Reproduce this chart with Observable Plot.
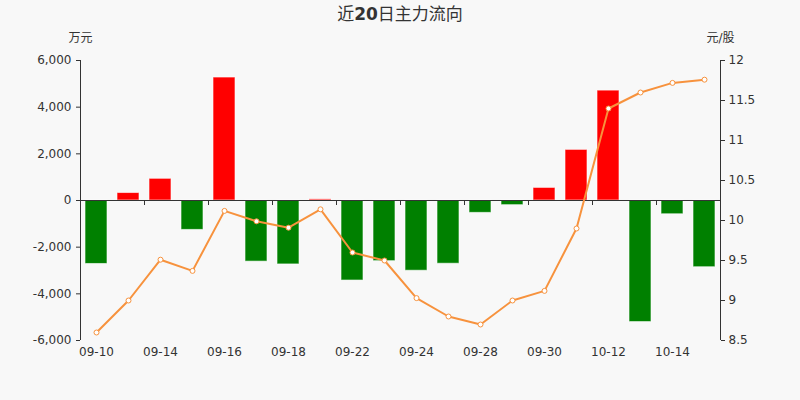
<!DOCTYPE html>
<html>
<head>
<meta charset="utf-8">
<script src="https://cdn.jsdelivr.net/npm/d3@7"></script>
<script src="https://cdn.jsdelivr.net/npm/@observablehq/plot@0.6"></script>
<style>
  html, body { margin: 0; padding: 0; background: #f8f8f8; }
  body { width: 800px; height: 400px; overflow: hidden; font-family: "DejaVu Sans", "Noto Sans CJK SC", sans-serif; color: #333; }
  #title { height: 28px; line-height: 28px; text-align: center; font-size: 17px; color: #333; }
  #title b { font-weight: bold; }
</style>
</head>
<body>
<div id="title">近<b>20</b>日主力流向</div>
<div id="chart"></div>
<script>
// ---- data ----
const dates = ["09-10","09-11","09-14","09-15","09-16","09-17","09-18","09-21","09-22","09-23",
               "09-24","09-25","09-28","09-29","09-30","10-09","10-12","10-13","10-14","10-15"];
const flows = [-2720, 320, 930, -1260, 5270, -2620, -2740, 50, -3430, -2600,
               -3010, -2710, -530, -200, 540, 2170, 4710, -5210, -590, -2860];
const prices = [8.60, 9.00, 9.51, 9.37, 10.12, 9.99, 9.91, 10.14, 9.60, 9.50,
                9.03, 8.80, 8.70, 9.00, 9.12, 9.90, 11.40, 11.60, 11.72, 11.76];
const leftTicks = [-6000, -4000, -2000, 0, 2000, 4000, 6000];
const rightTicks = [8.5, 9, 9.5, 10, 10.5, 11, 11.5, 12];
const xLabels = ["09-10","09-14","09-16","09-18","09-22","09-24","09-28","09-30","10-12","10-14"];
const leftUnit = "万元";
const rightUnit = "元/股";

// ---- helpers ----
const leftDomain = [-6000, 6000];
const rightDomain = [8.5, 12];
const toLeft = p => leftDomain[0] + (p - rightDomain[0]) * (leftDomain[1] - leftDomain[0]) / (rightDomain[1] - rightDomain[0]);
const fromLeft = v => rightDomain[0] + (v - leftDomain[0]) * (rightDomain[1] - rightDomain[0]) / (leftDomain[1] - leftDomain[0]);
const fmt = d3.formatLocale({decimal: ".", thousands: ",", grouping: [3], currency: ["", ""], minus: "-"}).format(",");

const data = dates.map((d, i) => ({date: d, flow: flows[i], price: prices[i], p: toLeft(prices[i])}));
const orange = "#f7923d";
const ink = "#333";

const chart = Plot.plot({
  width: 800,
  height: 372,
  marginTop: 32,
  marginBottom: 60,
  marginLeft: 80,
  marginRight: 80,
  style: {background: "transparent", fontSize: "12px", fontFamily: "DejaVu Sans, Noto Sans CJK SC, sans-serif", color: ink},
  x: {domain: dates, type: "band", paddingInner: 0.3125, paddingOuter: 0.15625},
  y: {domain: leftDomain},
  marks: [
    Plot.barY(data, {
      x: "date", y: "flow",
      fill: d => d.flow >= 0 ? "#ff0000" : "#008000",
      stroke: "white", strokeOpacity: 0.6, strokeWidth: 1
    }),
    Plot.ruleY([0], {stroke: ink, strokeWidth: 1}),
    Plot.ruleX(xLabels.slice(1), {x: d => d, y1: 0, y2: 0, dx: -16, insetBottom: -5, stroke: ink}),
    Plot.ruleX([dates[0]], {x: d => d, y1: leftDomain[0], y2: leftDomain[1], dx: -16, stroke: ink}),
    Plot.ruleX([dates[dates.length - 1]], {x: d => d, y1: leftDomain[0], y2: leftDomain[1], dx: 16, stroke: ink}),
    Plot.line(data, {x: "date", y: "p", stroke: orange, strokeWidth: 2}),
    Plot.dot(data, {x: "date", y: "p", r: 2.5, fill: "white", stroke: orange, strokeWidth: 1}),
    Plot.axisY(leftTicks, {anchor: "left", tickSize: 4, tickPadding: 5, tickFormat: fmt, label: null, fontSize: 12}),
    Plot.axisY(rightTicks.map(toLeft), {anchor: "right", tickSize: 4, tickPadding: 4, label: null,
      tickFormat: v => String(+fromLeft(v).toFixed(2)), fontSize: 12}),
    Plot.axisX(xLabels, {anchor: "bottom", tickSize: 0, tickPadding: 7, label: null, fontSize: 12}),
    Plot.text([leftUnit], {frameAnchor: "top-left", dy: -22, textAnchor: "middle", lineAnchor: "middle", fontSize: 12, fill: ink}),
    Plot.text([rightUnit], {frameAnchor: "top-right", dy: -22, textAnchor: "middle", lineAnchor: "middle", fontSize: 12, fill: ink})
  ]
});
document.getElementById("chart").appendChild(chart);
</script>
</body>
</html>
